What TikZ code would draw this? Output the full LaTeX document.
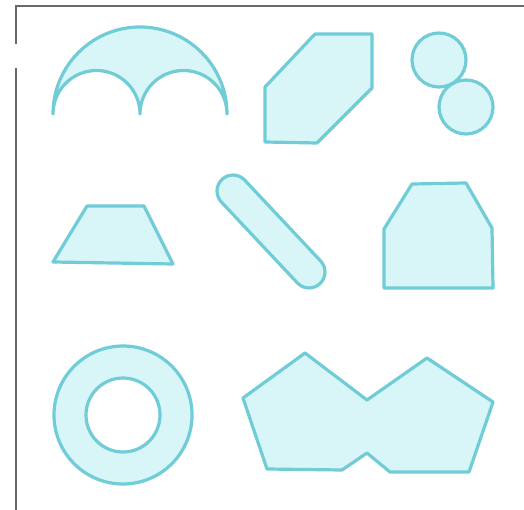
\documentclass[tikz,border=0pt]{standalone}
\definecolor{edge}{RGB}{112,204,214}
\definecolor{tint}{RGB}{216,246,248}
\definecolor{framec}{RGB}{105,105,105}
\begin{document}
\begin{tikzpicture}[x=1pt,y=-1pt,
  shapeline/.style={draw=edge,fill=tint,line width=3.2pt,line join=round},
  frameline/.style={draw=framec,line width=2pt}]
\useasboundingbox[fill=white] (0,0) rectangle (524,510);
% frame
\draw[frameline] (524,6) -- (16,6) -- (16,44);
\draw[frameline] (16,68) -- (16,510);
% arch (lune)
\draw[shapeline] (53,114) arc[start angle=180,end angle=360,radius=87]
  arc[start angle=0,end angle=-180,radius=43.5]
  arc[start angle=0,end angle=-180,radius=43.5] -- cycle;
% hexagon
\draw[shapeline] (315,34) -- (372,34) -- (372,88) -- (317,143) -- (265,142) -- (265,87) -- cycle;
% two circles
\draw[shapeline] (439,60) circle[radius=27];
\draw[shapeline] (466,107) circle[radius=27];
% trapezoid
\draw[shapeline] (87,206) -- (144,206) -- (173,264) -- (53,262) -- cycle;
% capsule
\begin{scope}[shift={(271,231.5)},rotate=-46.8]
\draw[shapeline] (-55.5,-16) -- (55.5,-16) arc[start angle=-90,end angle=90,radius=16]
  -- (-55.5,16) arc[start angle=90,end angle=270,radius=16] -- cycle;
\end{scope}
% house shape
\draw[shapeline] (412,184) -- (466,183) -- (492,228) -- (493,288) -- (384,288) -- (384,229) -- cycle;
% ring
\draw[shapeline,even odd rule] (123,415) circle[radius=69] (123,415) circle[radius=37];
% double pentagon
\draw[shapeline] (243,398) -- (305,353) -- (367,400) -- (427,358) -- (493,402) -- (469,472)
  -- (390,472) -- (367,453) -- (342,470) -- (267,469) -- cycle;
\end{tikzpicture}
\end{document}
